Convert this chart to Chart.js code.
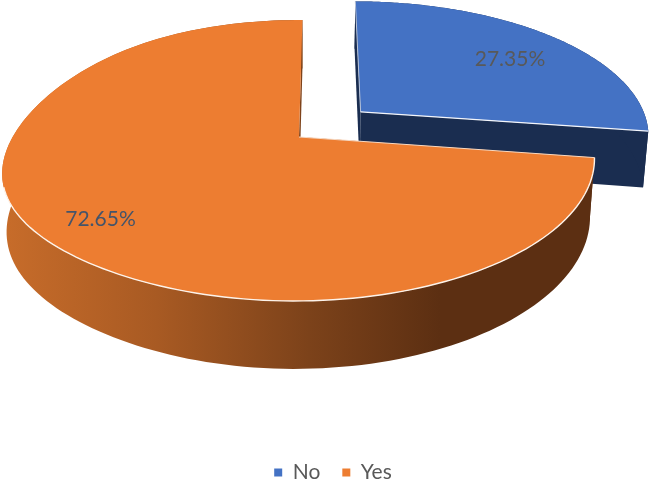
<!DOCTYPE html>
<html>
<head>
<meta charset="utf-8">
<style>
  html, body { margin: 0; background: #fff; }
  #wrap { width: 650px; height: 481px; }
</style>
<script src="https://cdn.jsdelivr.net/npm/chart.js@4"></script>
</head>
<body>
<div id="wrap"><canvas id="chart"></canvas></div>
<script>
const categories = ['No', 'Yes'];
const shares = [27.35, 72.65];
const topColors = ['#4472c4', '#ed7d31'];
const sideColors = ['#1a2d50', '#5c2f12'];
const labelColors = ['#595959', '#44546a'];

// where the slice sits on the pie plane, and where its label goes
const explode = [[0.215, -0.19], [0, 0]];
const labelRadius = [0.74, 0.82];
const labelNudge = [[5, 5], [3, 0]];

// perspective of the pie plane
const cam = { x: 299, y: 137, rx: 292, ry: 113.7, g: -0.167, shear: -4, leftSag: 12, depth: 56.6 };

function project(u, v, lower) {
  const w = 1 + cam.g * v;
  const drop = lower ? cam.depth : 0;
  const rx = lower ? cam.rx * 0.985 : cam.rx;
  // the left end of the picture's pie hangs a little lower than a true ellipse
  const sag = u < 0 ? cam.leftSag * u * u * u * u : 0;
  return {
    x: cam.x + (rx * u + cam.shear * v) / w,
    y: (cam.y + cam.ry * v) / w + drop / w + sag
  };
}

function arcPoints(i, start, end, lower) {
  const pts = [];
  for (let s = 0; s <= 160; s++) {
    const a = start + (end - start) * s / 160;
    pts.push(project(explode[i][0] + Math.cos(a), explode[i][1] + Math.sin(a), lower));
  }
  return pts;
}

function fillPoly(ctx, pts, fill) {
  ctx.beginPath();
  pts.forEach((p, n) => (n ? ctx.lineTo(p.x, p.y) : ctx.moveTo(p.x, p.y)));
  ctx.closePath();
  ctx.fillStyle = fill;
  ctx.fill();
}

function strokeLine(ctx, pts, color, width) {
  ctx.beginPath();
  pts.forEach((p, n) => (n ? ctx.lineTo(p.x, p.y) : ctx.moveTo(p.x, p.y)));
  ctx.strokeStyle = color;
  ctx.lineWidth = width;
  ctx.stroke();
}

const pie3d = {
  id: 'pie3d',
  afterLayout(chart) {
    // legend sits lower and a bit right of the default bottom slot
    chart.legend.top += 12;
    chart.legend.bottom += 12;
    chart.legend.left += 8;
    chart.legend.right += 8;
  },
  beforeDatasetDraw(chart) {
    const ctx = chart.ctx;
    const arcs = chart.getDatasetMeta(0).data;
    ctx.save();

    arcs.forEach((arc, i) => {
      const apexTop = project(explode[i][0], explode[i][1], false);
      const apexLow = project(explode[i][0], explode[i][1], true);
      const top = arcPoints(i, arc.startAngle, arc.endAngle, false);
      const low = arcPoints(i, arc.startAngle, arc.endAngle, true);

      let side = sideColors[i];
      if (i === 1) {
        side = ctx.createLinearGradient(5, 0, 440, 0);
        side.addColorStop(0, '#c76c2a');
        side.addColorStop(0.35, '#a85a23');
        side.addColorStop(0.7, '#7c421a');
        side.addColorStop(1, '#5c2f12');
      }

      // cut faces first, then the rim, then the flat top
      fillPoly(ctx, [apexTop, top[0], low[0], apexLow], i === 0 ? '#1a2d50' : side);
      fillPoly(ctx, [apexTop, top[160], low[160], apexLow], i === 0 ? '#1a2d50' : side);
      fillPoly(ctx, top.concat(low.slice().reverse()), side);
      fillPoly(ctx, [apexTop].concat(top), topColors[i]);

      if (i === 0) {
        strokeLine(ctx, [apexTop, top[0]], '#b9c4d8', 1);
        strokeLine(ctx, [apexTop, top[160]], '#f4f6fb', 1.3);
      } else {
        strokeLine(ctx, top.slice(0, 96), '#fdf3ea', 1.4);
        strokeLine(ctx, [top[0], apexTop], '#f8d9c2', 1);
      }
    });

    ctx.font = '21px Lato';
    ctx.textAlign = 'center';
    ctx.textBaseline = 'middle';
    arcs.forEach((arc, i) => {
      const mid = (arc.startAngle + arc.endAngle) / 2;
      const r = labelRadius[i];
      const p = project(explode[i][0] + r * Math.cos(mid), explode[i][1] + r * Math.sin(mid), false);
      ctx.fillStyle = labelColors[i];
      ctx.fillText(shares[i].toFixed(2) + '%', p.x + labelNudge[i][0], p.y + labelNudge[i][1]);
    });

    ctx.restore();
    return false;
  }
};

new Chart(document.getElementById('chart'), {
  type: 'pie',
  data: {
    labels: categories,
    datasets: [{ data: shares, backgroundColor: topColors, borderWidth: 0 }]
  },
  plugins: [pie3d],
  options: {
    responsive: true,
    maintainAspectRatio: false,
    animation: false,
    plugins: {
      tooltip: { enabled: false },
      legend: {
        position: 'bottom',
        labels: {
          usePointStyle: true,
          pointStyle: 'rect',
          boxWidth: 8,
          boxHeight: 8,
          padding: 22,
          color: '#595959',
          font: { family: 'Lato', size: 21 }
        }
      }
    }
  }
});
</script>
</body>
</html>
